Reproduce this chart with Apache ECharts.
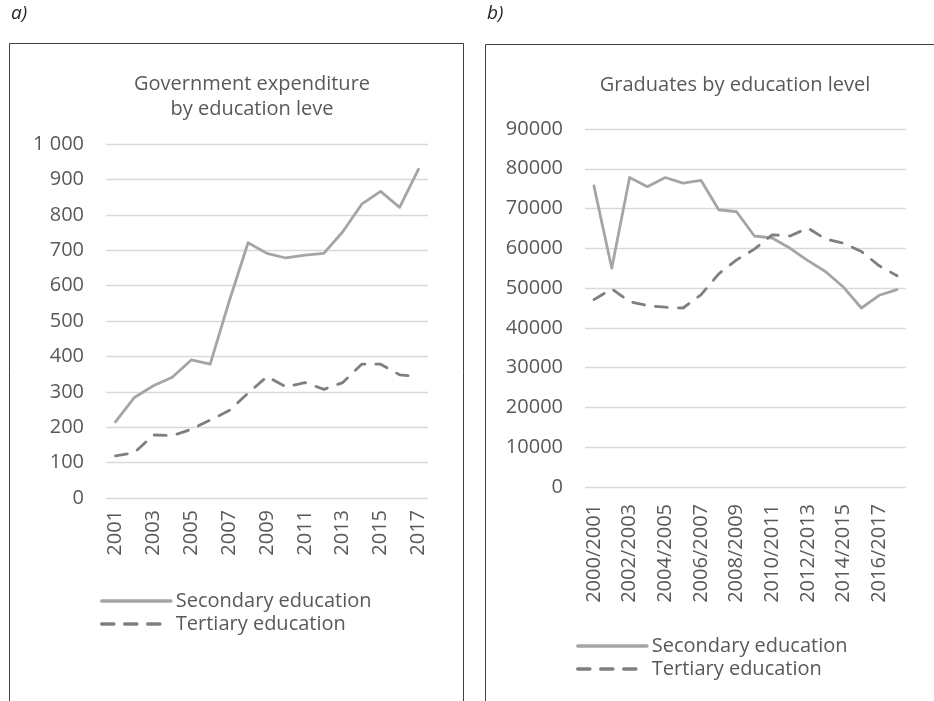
<!DOCTYPE html>
<html>
<head>
<meta charset="utf-8">
<script src="https://cdn.jsdelivr.net/npm/echarts@6/dist/echarts.min.js"></script>
<style>
html,body{margin:0;padding:0;background:#fff;}
#c{width:934px;height:701px;}
</style>
</head>
<body>
<div id="c"></div>
<script>
// ---- data ----
const yearsA = ['2001','2002','2003','2004','2005','2006','2007','2008','2009','2010','2011','2012','2013','2014','2015','2016','2017'];
const secondaryA = [215, 284, 317, 341, 390, 378, 555, 721, 691, 678, 686, 691, 752, 830, 866, 821, 929];
const tertiaryA = [119, 128, 178, 176, 194, 220, 247, 296, 343, 314, 326, 307, 326, 378, 378, 348, 343];

const yearsB = ['2000/2001','2001/2002','2002/2003','2003/2004','2004/2005','2005/2006','2006/2007','2007/2008','2008/2009','2009/2010','2010/2011','2011/2012','2012/2013','2013/2014','2014/2015','2015/2016','2016/2017','2017/2018'];
const secondaryB = [75700, 55000, 77800, 75500, 77800, 76400, 77100, 69700, 69200, 63100, 62600, 60000, 56900, 54100, 50200, 45000, 48200, 49600];
const tertiaryB = [47100, 49800, 46600, 45600, 45200, 45000, 48300, 53600, 57100, 59800, 63400, 63100, 65100, 62300, 61300, 59200, 55600, 53100];

const titleA = 'Government expenditure\nby education leve';
const titleB = 'Graduates by education level';
const nameSec = 'Secondary education';
const nameTer = 'Tertiary education';

// ---- chart ----
const FONT = '"Open Sans", "Noto Sans", sans-serif';
const TXT = '#595959';
const FS = 20;
const FW = 400;
const chart = echarts.init(document.getElementById('c'), null, {renderer: 'canvas'});

const secStyle = {color: '#a5a5a5', width: 2.8, cap: 'round', join: 'round'};
const terStyle = {color: '#7f7f7f', width: 2.8, type: [12, 11], cap: 'round', join: 'round'};

function xAxis(idx, data, margin) {
  return {
    type: 'category', gridIndex: idx, data: data, boundaryGap: true,
    axisLine: {show: false}, axisTick: {show: false},
    axisLabel: {rotate: 90, interval: 1, margin: margin, color: TXT, fontFamily: FONT, fontSize: FS, fontWeight: FW}
  };
}
function yAxis(idx, max, interval, fmt) {
  return {
    type: 'value', gridIndex: idx, min: 0, max: max, interval: interval,
    axisLine: {show: false}, axisTick: {show: false},
    splitLine: {lineStyle: {color: '#d9d9d9', width: 1.3}},
    axisLabel: {margin: 22, color: TXT, fontFamily: FONT, fontSize: FS, fontWeight: FW, formatter: fmt}
  };
}
const legText = {color: TXT, fontFamily: FONT, fontSize: FS, fontWeight: FW};
function legend(left, top) {
  return {orient: 'vertical', left: left, top: top, itemWidth: 69, itemHeight: 12, itemGap: 3, itemTextGap: 5,
    data: [nameSec, nameTer], textStyle: legText,
    itemStyle: {opacity: 0}, lineStyle: {width: 3.6}};
}

const option = {
  backgroundColor: '#ffffff',
  animation: false,
  title: [
    {text: titleA, left: 247, top: 67, textAlign: 'center',
     textStyle: {color: TXT, fontFamily: FONT, fontSize: FS, fontWeight: FW, lineHeight: 25}},
    {text: titleB, left: 730, top: 70, textAlign: 'center',
     textStyle: {color: TXT, fontFamily: FONT, fontSize: FS, fontWeight: FW}}
  ],
  grid: [
    {left: 106, right: 506, top: 144, bottom: 203},
    {left: 585, right: 28, top: 129, bottom: 214}
  ],
  xAxis: [xAxis(0, yearsA, 12), xAxis(1, yearsB, 17)],
  yAxis: [
    yAxis(0, 1000, 100, function (v) { return v >= 1000 ? String(v).replace(/\B(?=(\d{3})+(?!\d))/g, ' ') : String(v); }),
    yAxis(1, 90000, 10000, function (v) { return String(v); })
  ],
  legend: [legend(95, 586), legend(571, 631)],
  series: [
    {name: nameSec, type: 'line', xAxisIndex: 0, yAxisIndex: 0, data: secondaryA, symbol: 'none', lineStyle: secStyle, itemStyle: {color: '#a5a5a5'}},
    {name: nameTer, type: 'line', xAxisIndex: 0, yAxisIndex: 0, data: tertiaryA, symbol: 'none', lineStyle: terStyle, itemStyle: {color: '#7f7f7f'}},
    {name: nameSec, type: 'line', xAxisIndex: 1, yAxisIndex: 1, data: secondaryB, symbol: 'none', lineStyle: secStyle, itemStyle: {color: '#a5a5a5'}},
    {name: nameTer, type: 'line', xAxisIndex: 1, yAxisIndex: 1, data: tertiaryB, symbol: 'none', lineStyle: terStyle, itemStyle: {color: '#7f7f7f'}}
  ],
  graphic: [
    {type: 'rect', shape: {x: 9.5, y: 43.5, width: 454, height: 720}, style: {fill: 'none', stroke: '#404040', lineWidth: 1}, silent: true},
    {type: 'rect', shape: {x: 485.5, y: 44.5, width: 520, height: 720}, style: {fill: 'none', stroke: '#404040', lineWidth: 1}, silent: true},
    {type: 'text', left: 11, top: 4, style: {text: 'a)', fill: '#262626', font: 'italic 400 19px "Open Sans", sans-serif'}, silent: true},
    {type: 'text', left: 487, top: 4, style: {text: 'b)', fill: '#262626', font: 'italic 400 19px "Open Sans", sans-serif'}, silent: true}
  ]
};
chart.setOption(option);
</script>
</body>
</html>
